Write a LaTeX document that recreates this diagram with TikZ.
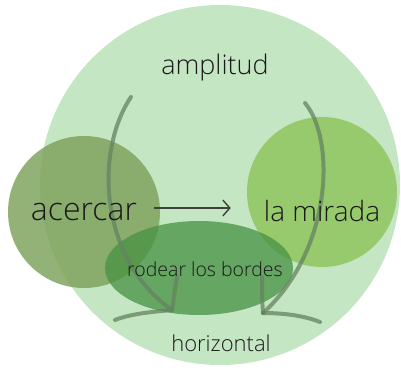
\documentclass[tikz,border=0pt]{standalone}
\usepackage{fontspec}
\setmainfont{Open Sans Light}
\usetikzlibrary{arrows.meta}
\definecolor{paleleaf}{RGB}{197,230,195}
\definecolor{olive}{RGB}{128,164,96}
\definecolor{lime}{RGB}{146,198,100}
\definecolor{moss}{RGB}{70,145,66}
\definecolor{stem}{RGB}{100,132,96}
\definecolor{ink}{RGB}{60,66,60}
\tikzset{
  wordtag/.style={text=black!90,inner sep=0pt},
  sweep/.style={draw=stem,opacity=.75,line width=4pt,line cap=round},
}
\begin{document}
\begin{tikzpicture}[x=1pt,y=-1pt]
\useasboundingbox (0,0) rectangle (401,374);
% Circles
\fill[paleleaf] (220,185) coordinate (origin) circle[radius=180];
\fill[olive,opacity=.85] (84,212) circle[radius=76];
\fill[lime,opacity=.9] (322,192) circle[radius=75];
\fill[moss,opacity=.75] (199,268) ellipse[x radius=94,y radius=47];
% Curved arrows
\draw[sweep] (131,97) coordinate (topleft) .. controls (95,150) and (98,258) .. (172,310) coordinate (endleft);
\draw[sweep] (endleft) .. controls (150,312) and (130,314) .. (115,320);
\draw[sweep] (endleft) .. controls (174,298) and (175,288) .. (177,277);
\draw[sweep] (305,103) coordinate (topright) .. controls (336,140) and (332,250) .. (263,313) coordinate (endright);
\draw[sweep] (endright) .. controls (285,313) and (305,316) .. (320,322);
\draw[sweep] (endright) .. controls (262,300) and (262,290) .. (262,277);
% Labels
\node[wordtag,font=\fontsize{27}{32}\selectfont] (amplitud) at (215,67) {amplitud};
\node[wordtag,font=\fontsize{32}{38}\selectfont] (acercar) at (84,212) {acercar};
\node[wordtag,font=\fontsize{28}{33}\selectfont] (mirada) at (322,211) {la mirada};
\node[wordtag,font=\fontsize{19.5}{23}\selectfont] (bordes) at (205,269) {rodear los bordes};
\node[wordtag,font=\fontsize{22}{26}\selectfont] (horizontal) at (221,343) {horizontal};
% Arrow
\draw[ink,line width=1.6pt,-{Straight Barb[length=7pt,width=16pt,line width=1.4pt]}] ([xshift=17pt,yshift=4pt]acercar.east) -- ([xshift=-33pt,yshift=3pt]mirada.west);
\end{tikzpicture}
\end{document}
